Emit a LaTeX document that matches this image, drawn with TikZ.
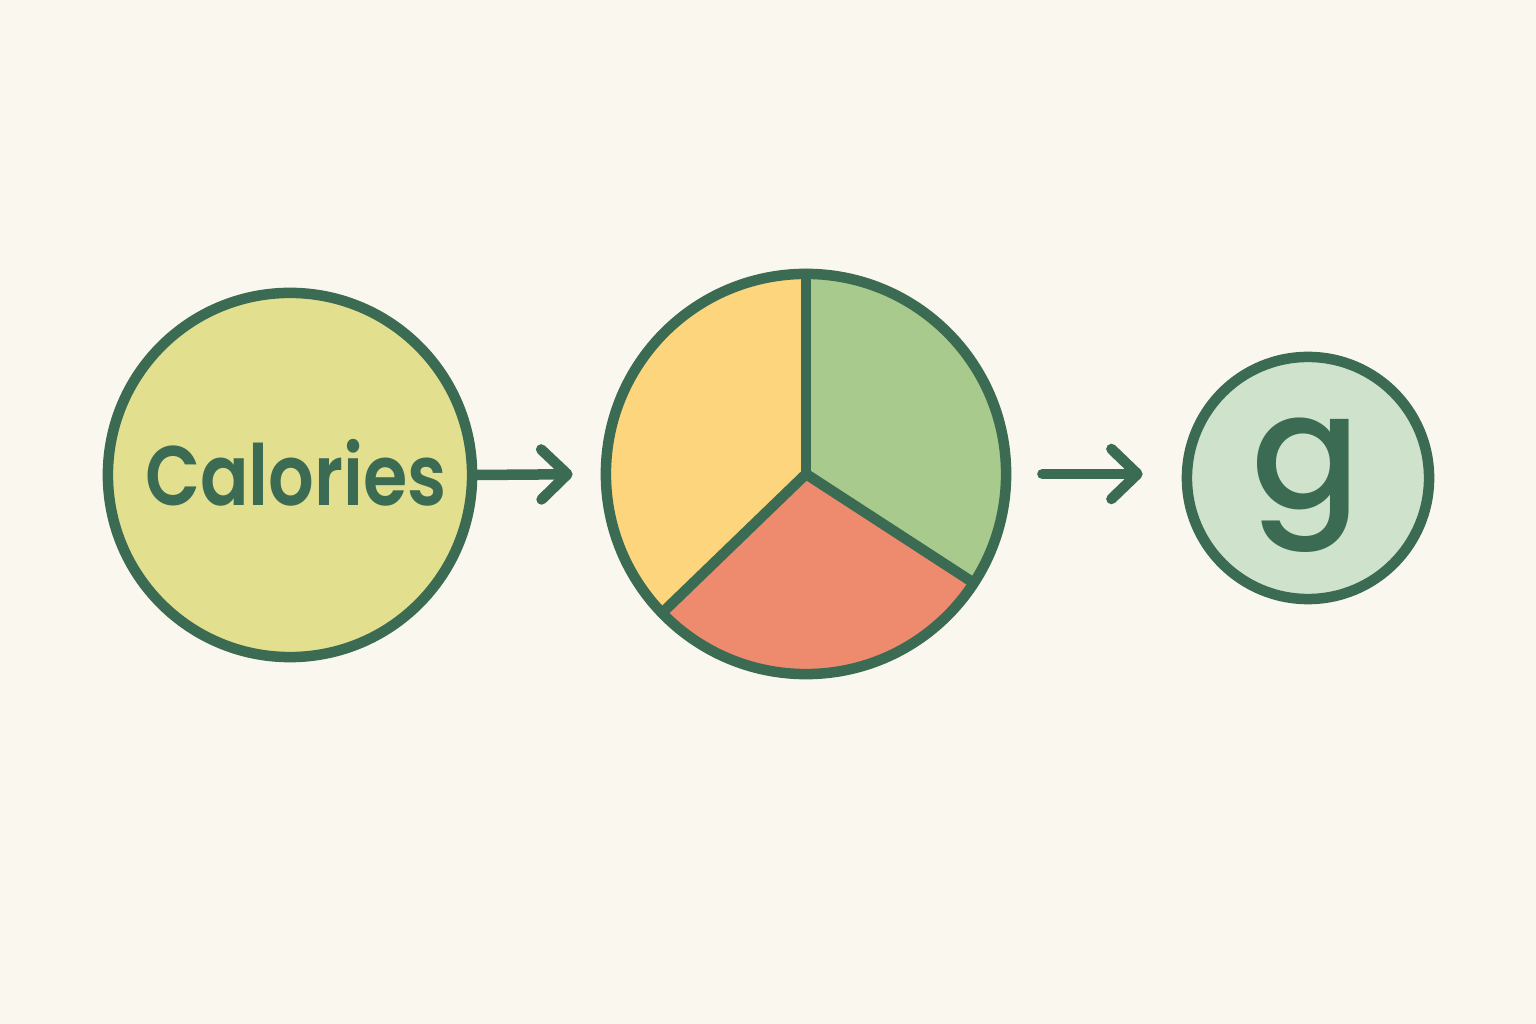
\documentclass[tikz,border=0pt]{standalone}
\usepackage{fontspec}
\newfontfamily\popc{Poppins SemiBold}[FakeStretch=0.85]
\newfontfamily\popg{Poppins Medium}
\usetikzlibrary{arrows.meta}
\definecolor{bgc}{HTML}{FAF7EE}
\definecolor{inkc}{HTML}{3B6B52}
\definecolor{calc}{HTML}{E2DF8F}
\definecolor{yelc}{HTML}{FCD57C}
\definecolor{grnc}{HTML}{A9CA8D}
\definecolor{redc}{HTML}{EE8B6E}
\definecolor{gc}{HTML}{CFE3CC}
\tikzset{
  ring/.style={circle, draw=inkc, line width=0.105cm, inner sep=0pt, text=inkc},
  divider/.style={draw=inkc, line width=0.105cm, line cap=round, line join=round},
  flow/.style={draw=inkc, line width=0.105cm, line cap=round,
    -{Straight Barb[length=0.26cm, width=0.5cm, round]}},
  label text/.style={text=inkc, inner sep=0pt, anchor=base},
}
\begin{document}
\begin{tikzpicture}[x=0.01cm, y=0.01cm]
\fill[bgc] (0,0) rectangle (1536,1024);
\useasboundingbox (0,0) rectangle (1536,1024);
% circle 1
\node[ring, fill=calc, minimum size=3.64cm] (cal) at (290,549) {};
\node[label text, font=\popc\fontsize{24}{28}\selectfont] (caltext) at (296,518) {Calories};
% pie
\coordinate (pc) at (806,550);
\fill[yelc] (pc) -- ++(90:200) arc[start angle=90, end angle=224, radius=200] -- cycle;
\fill[redc] (pc) -- ++(224:200) arc[start angle=224, end angle=327, radius=200] -- cycle;
\fill[grnc] (pc) -- ++(327:200) arc[start angle=327, end angle=450, radius=200] -- cycle;
\draw[divider] (pc) -- ++(90:200);
\draw[divider] (pc) -- ++(224:200);
\draw[divider] (pc) -- ++(327:200);
\node[ring, minimum size=4.0cm] (pie) at (pc) {};
% circle 3
\node[ring, fill=gc, minimum size=2.42cm] (gram) at (1308,546) {};
\node[label text, font=\popg\fontsize{46}{50}\selectfont] (gtext) at (1306,515) {g};
% arrows
\draw[flow, shorten >=0.28cm] (cal.east) -- (pie.west);
\draw[flow, shorten <=0.31cm, shorten >=0.39cm] (pie.east) -- (pie.east -| gram.west);
\end{tikzpicture}
\end{document}
